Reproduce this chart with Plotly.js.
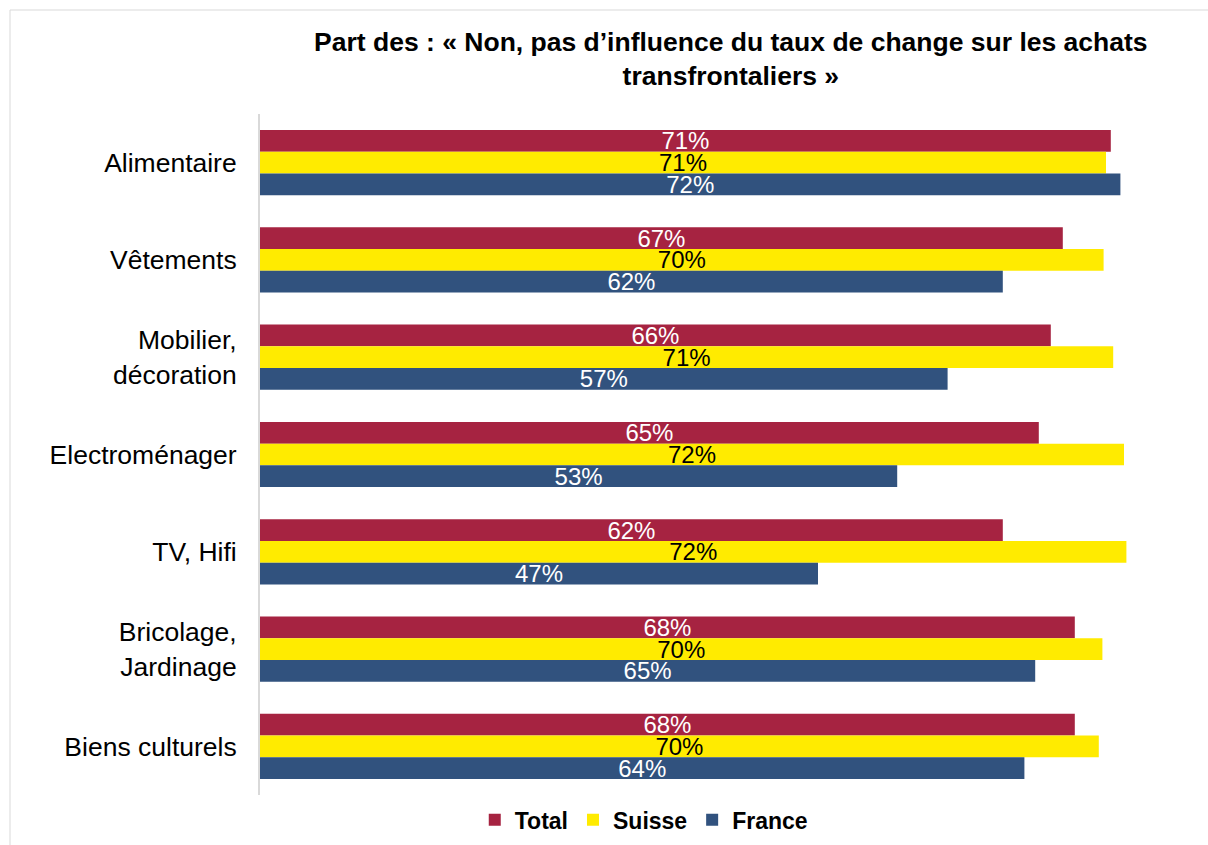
<!DOCTYPE html>
<html>
<head>
<meta charset="utf-8">
<script src="https://cdn.plot.ly/plotly-3.0.1.min.js"></script>
<style>html,body{margin:0;padding:0;background:#fff;}#chart{width:1208px;height:845px;}</style>
</head>
<body>
<div id="chart"></div>
<script>
const categories = ["Alimentaire", "Vêtements", "Mobilier,<br>décoration", "Electroménager", "TV, Hifi", "Bricolage,<br>Jardinage", "Biens culturels"];
const total  = [70.9, 66.9, 65.9, 64.9, 61.9, 67.9, 67.9];
const suisse = [70.5, 70.3, 71.1, 72.0, 72.2, 70.2, 69.9];
const france = [71.7, 61.9, 57.3, 53.1, 46.5, 64.6, 63.7];
const seriesNames = ["Total", "Suisse", "France"];
const colors = ["#A62341", "#FFEB00", "#31527E"];
const labelColors = ["#ffffff", "#000000", "#ffffff"];

const data = [total, suisse, france].map((vals, i) => ({
  type: "bar",
  orientation: "h",
  name: seriesNames[i],
  y: categories,
  x: vals,
  marker: {color: colors[i]},
  text: vals.map(v => Math.round(v) + "%"),
  textposition: "inside",
  insidetextanchor: "middle",
  constraintext: "none",
  textfont: {family: "Liberation Sans, Arial, sans-serif", size: 24, color: labelColors[i]},
  hoverinfo: "none"
}));

const layout = {
  width: 1208, height: 845,
  margin: {l: 260, r: 12, t: 114, b: 50, autoexpand: false},
  paper_bgcolor: "#ffffff",
  plot_bgcolor: "#ffffff",
  barmode: "group",
  bargap: 0.33,
  bargroupgap: 0,
  showlegend: true,
  font: {family: "Liberation Sans, Arial, sans-serif", color: "#000"},
  title: {
    text: "<b>Part des : « Non, pas d’influence du taux de change sur les achats<br>transfrontaliers »</b>",
    font: {family: "Liberation Sans, Arial, sans-serif", size: 26.5, color: "#000"},
    x: 0.605, xanchor: "center", y: 0.94, yanchor: "top"
  },
  xaxis: {range: [0, 78], visible: false, fixedrange: true},
  yaxis: {
    autorange: "reversed",
    showline: true, linecolor: "#d9d9d9", linewidth: 2,
    ticks: "", ticklen: 0,
    ticklabelstandoff: 16,
    tickfont: {family: "Liberation Sans, Arial, sans-serif", size: 26.5, color: "#000"},
    showgrid: false, zeroline: false
  },
  legend: {
    orientation: "h", x: 0.41, xanchor: "center", y: -0.005, yanchor: "top",
    traceorder: "normal",
    font: {family: "Liberation Sans, Arial, sans-serif", size: 23, color: "#000", weight: "bold"},
    itemwidth: 30
  },
  shapes: [{
    type: "rect", xref: "paper", yref: "paper",
    x0: (10 - 260) / 936, x1: (1230 - 260) / 936,
    y0: (795 - 870) / 681, y1: (795 - 10) / 681,
    line: {color: "#d9d9d9", width: 1}, fillcolor: "rgba(0,0,0,0)", layer: "below"
  }]
};

Plotly.newPlot("chart", data, layout, {displayModeBar: false, staticPlot: true});
</script>
</body>
</html>
